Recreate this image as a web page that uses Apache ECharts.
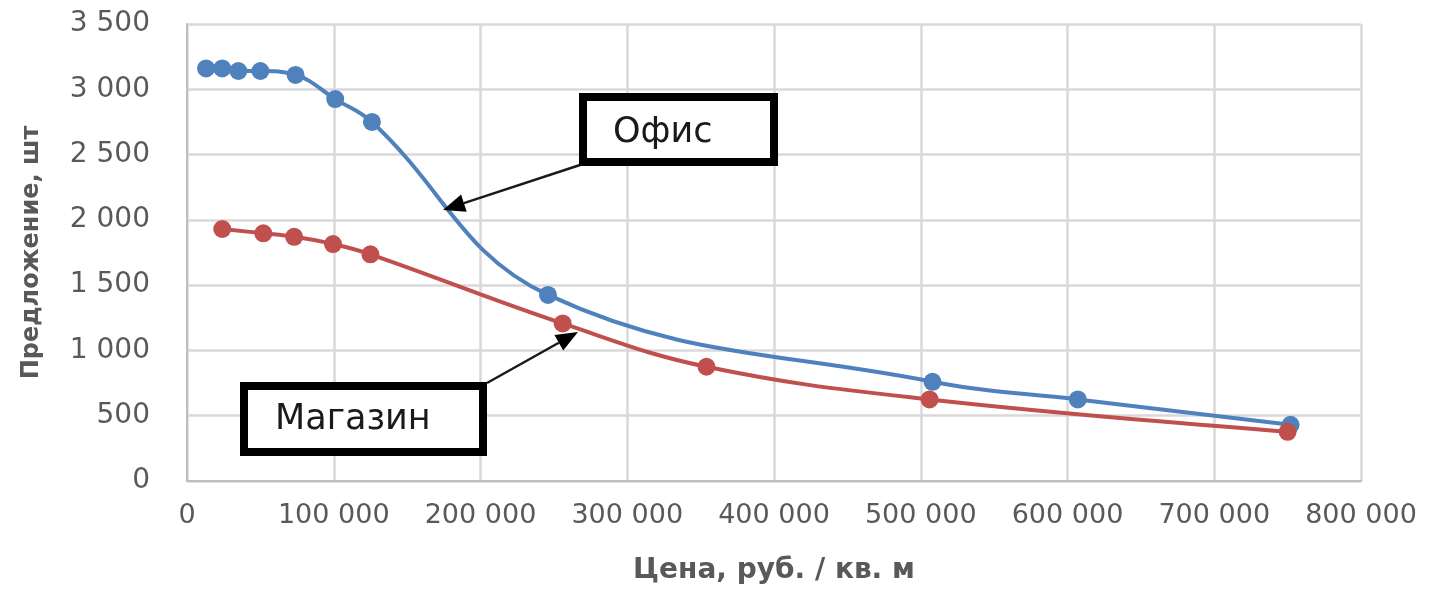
<!DOCTYPE html>
<html>
<head>
<meta charset="utf-8">
<script src="https://cdn.jsdelivr.net/npm/echarts@6/dist/echarts.min.js"></script>
<style>
  html, body { margin: 0; padding: 0; background: #fff; }
  #chart { width: 1430px; height: 591px; }
</style>
</head>
<body>
<div id="chart"></div>
<script>
// цена (руб./кв. м) и предложение (шт)
var officeData = [
  [13000, 3160], [24000, 3160], [35000, 3140], [50000, 3140], [74000, 3110],
  [101000, 2925], [126000, 2750], [246000, 1425], [508000, 760],
  [607000, 625], [752000, 430]
];
var shopData = [
  [24000, 1930], [52000, 1897], [73000, 1870], [99500, 1815], [125000, 1736],
  [256000, 1207], [354000, 875], [506000, 625], [750000, 377]
];
var seriesNames = ['Офис', 'Магазин'];
var xTitle = 'Цена, руб. / кв. м';
var yTitle = 'Предложение, шт';

function fmt(v) {
  return String(v).replace(/\B(?=(\d{3})+(?!\d))/g, ' ');
}

var myChart = echarts.init(document.getElementById('chart'));

var option = {
  animation: false,
  textStyle: { fontFamily: 'DejaVu Sans' },
  grid: { left: 187, right: 69, top: 24, bottom: 110 },
  xAxis: {
    type: 'value',
    min: 0, max: 800000, interval: 100000,
    name: xTitle,
    nameLocation: 'middle',
    nameGap: 76,
    nameTextStyle: { fontSize: 28, fontWeight: 'bold', color: '#595959' },
    axisLine: { show: true, lineStyle: { color: '#BFBFBF', width: 2 } },
    axisTick: { show: false },
    axisLabel: { fontSize: 27, color: '#595959', margin: 21, formatter: fmt },
    splitLine: { show: true, lineStyle: { color: '#D9D9D9', width: 2.5 } }
  },
  yAxis: {
    type: 'value',
    min: 0, max: 3500, interval: 500,
    name: yTitle,
    nameLocation: 'middle',
    nameGap: 143,
    nameTextStyle: { fontSize: 24, fontWeight: 'bold', color: '#595959' },
    axisLine: { show: true, lineStyle: { color: '#BFBFBF', width: 2 } },
    axisTick: { show: false },
    axisLabel: { fontSize: 28, color: '#595959', margin: 37, formatter: fmt },
    splitLine: { show: true, lineStyle: { color: '#D9D9D9', width: 2.5 } }
  },
  series: [
    {
      name: seriesNames[0],
      type: 'line',
      data: officeData,
      smooth: 0.4,
      symbol: 'circle',
      symbolSize: 18,
      itemStyle: { color: '#4F81BD' },
      lineStyle: { color: '#4F81BD', width: 4 }
    },
    {
      name: seriesNames[1],
      type: 'line',
      data: shopData,
      smooth: 0.4,
      symbol: 'circle',
      symbolSize: 18,
      itemStyle: { color: '#C0504D' },
      lineStyle: { color: '#C0504D', width: 4 }
    }
  ]
};

myChart.setOption(option);

// подписи-выноски
function arrow(x1, y1, x2, y2) {
  var ang = Math.atan2(y2 - y1, x2 - x1);
  var len = 22, half = 9;
  var bx = x2 - len * Math.cos(ang), by = y2 - len * Math.sin(ang);
  var nx = -Math.sin(ang), ny = Math.cos(ang);
  return [
    { type: 'line', z: 100, shape: { x1: x1, y1: y1, x2: bx, y2: by },
      style: { stroke: '#1a1a1a', lineWidth: 2.5 } },
    { type: 'polygon', z: 100,
      shape: { points: [[x2, y2], [bx + nx * half, by + ny * half], [bx - nx * half, by - ny * half]] },
      style: { fill: '#000' } }
  ];
}

var g = [];
g = g.concat(arrow(580, 165, 443, 210));
g = g.concat(arrow(487, 383, 578, 332));
g.push({ type: 'rect', z: 100, shape: { x: 583, y: 97, width: 191, height: 65 },
  style: { fill: '#fff', stroke: '#000', lineWidth: 8 } });
g.push({ type: 'text', z: 101, x: 613, y: 133,
  style: { text: seriesNames[0], font: '35px "DejaVu Sans"', fill: '#1a1a1a', verticalAlign: 'middle' } });
g.push({ type: 'rect', z: 100, shape: { x: 244, y: 386, width: 239, height: 66 },
  style: { fill: '#fff', stroke: '#000', lineWidth: 8 } });
g.push({ type: 'text', z: 101, x: 275, y: 420,
  style: { text: seriesNames[1], font: '35px "DejaVu Sans"', fill: '#1a1a1a', verticalAlign: 'middle' } });

myChart.setOption({ graphic: g });
</script>
</body>
</html>
